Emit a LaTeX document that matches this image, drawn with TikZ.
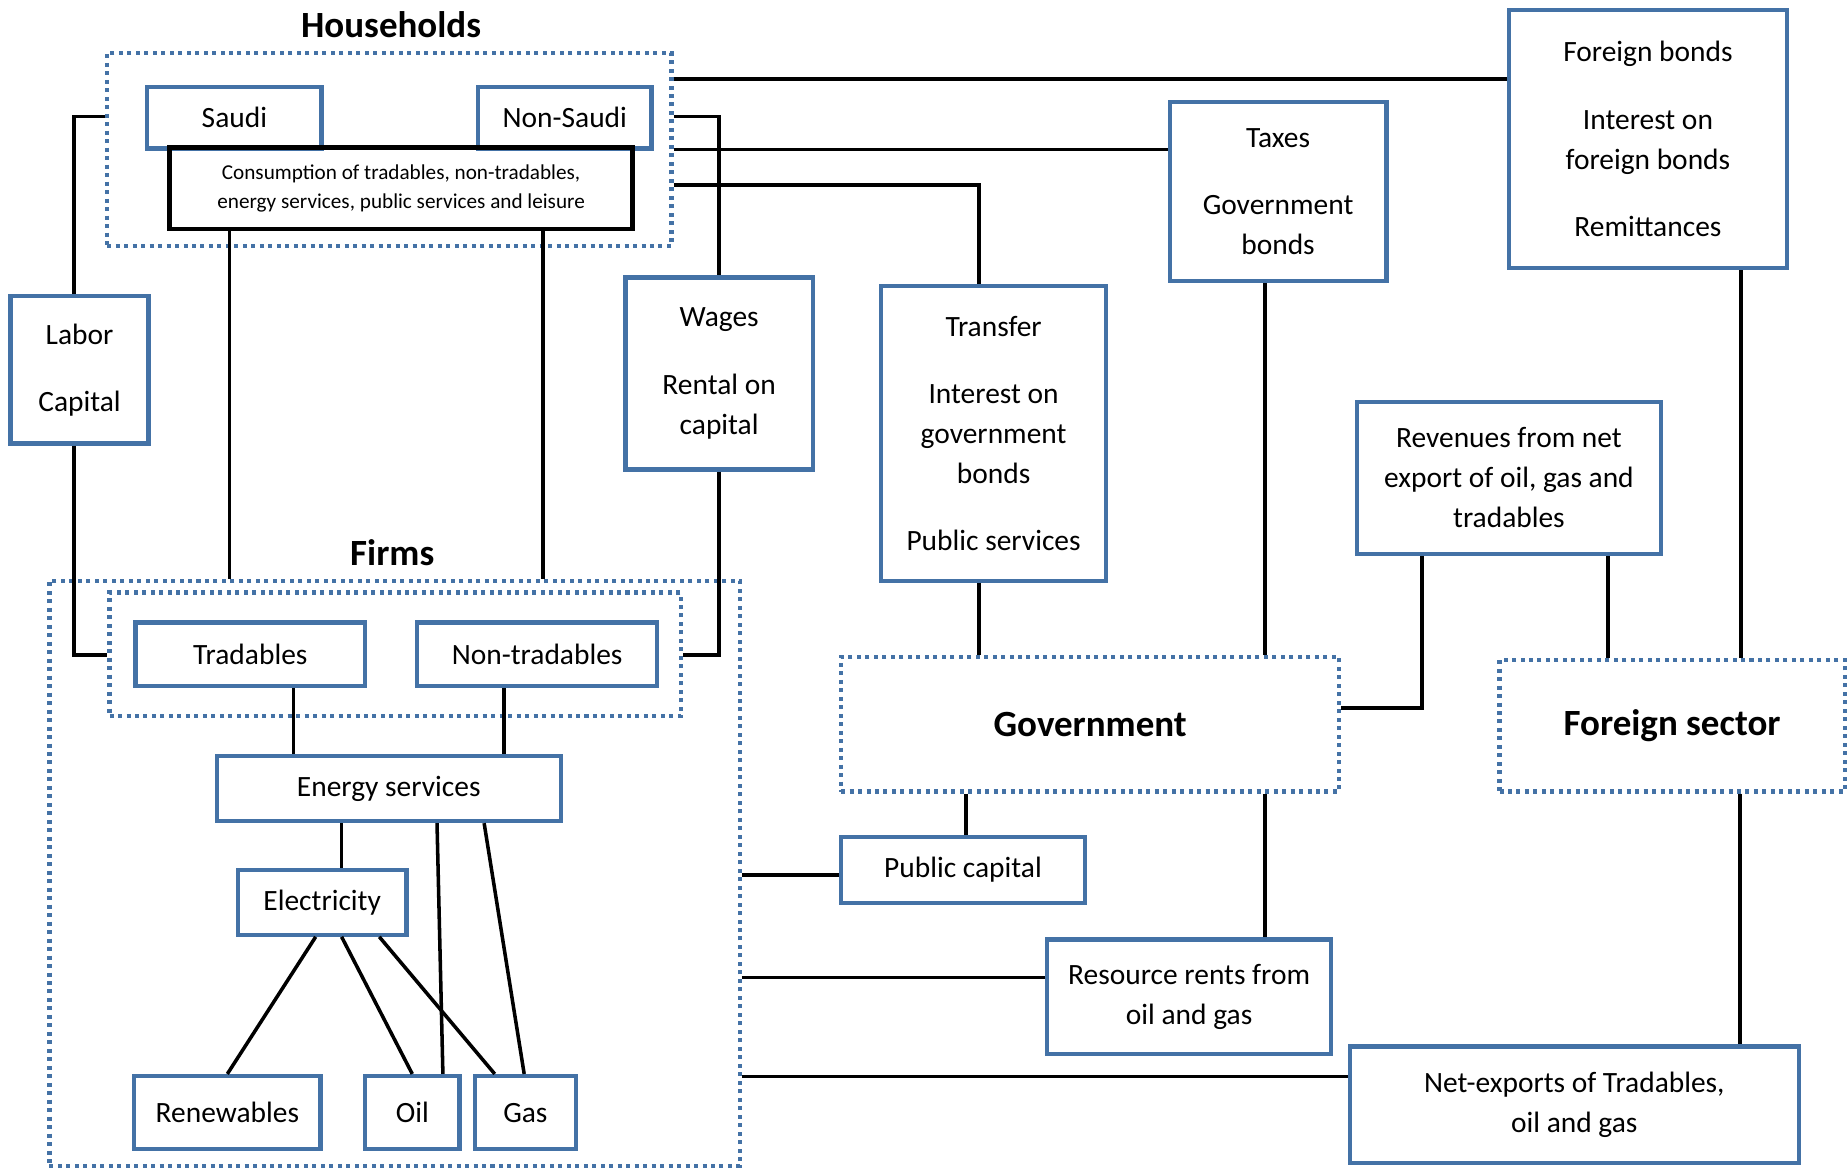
\documentclass[tikz,border=0pt]{standalone}
\usepackage{fontspec}
\setmainfont{Carlito}
\definecolor{bx}{RGB}{68,114,166}
\begin{document}
\begin{tikzpicture}[x=0.5pt,y=-0.5pt,
 box/.style={draw=bx, line width=1.8pt, inner sep=0pt, align=center, font=\fontsize{12.5}{17}\selectfont},
 grp/.style={draw=bx, line width=1.8pt, dash pattern=on 1.7pt off 1.9pt, inner sep=0pt, align=center},
 ttl/.style={font=\fontsize{15.7}{19}\selectfont\bfseries},
 con/.style={line width=1.5pt, black}]
\useasboundingbox (0,0) rectangle (1568,992);

% group boxes
\node[grp, minimum width=239.5pt, minimum height=82pt] (hh) at (330.5,127) {};
\node[grp, minimum width=293pt, minimum height=248.5pt] (fo) at (335,741.5) {};
\node[grp, minimum width=242.5pt, minimum height=52.5pt] (fin) at (335.5,555.5) {};
\node[grp, minimum width=211.5pt, minimum height=57pt, ttl] (gov) at (925.5,615) {Government};
\node[grp, minimum width=146.5pt, minimum height=56pt, ttl] (fs) at (1419.5,616) {Foreign sector};

% titles
\node[ttl] (thh) at (332,21) {Households};
\node[ttl] (tfi) at (333,469) {Firms};

% households
\node[box, minimum width=74pt, minimum height=26pt] (sa) at (199,100) {Saudi};
\node[box, minimum width=73.5pt, minimum height=26pt] (ns) at (479.5,100) {Non-Saudi};
\node[box, draw=black, line width=2pt, minimum width=196.5pt, minimum height=34.5pt, font=\fontsize{9}{12.5}\selectfont] (cons) at (340.5,160) {Consumption of tradables, non-tradables,\\energy services, public services and leisure};

% other boxes
\node[box, minimum width=58.5pt, minimum height=62.5pt] (lab) at (67.5,314) {Labor\\[11.5pt]Capital};
\node[box, minimum width=79.5pt, minimum height=81.5pt] (wag) at (610.5,317) {Wages\\[11.5pt]Rental on\\capital};
\node[box, minimum width=95.5pt, minimum height=125pt] (tr) at (843.5,368) {Transfer\\[11.5pt]Interest on\\government\\bonds\\[11.5pt]Public services};
\node[box, minimum width=92pt, minimum height=76pt] (tax) at (1085,162.5) {Taxes\\[11.5pt]Government\\bonds};
\node[box, minimum width=118pt, minimum height=109.5pt] (fb) at (1399,118) {Foreign bonds\\[11.5pt]Interest on\\foreign bonds\\[11.5pt]Remittances};
\node[box, minimum width=129pt, minimum height=64.5pt] (rev) at (1281,405.5) {Revenues from net\\export of oil, gas and\\tradables};
\node[box, minimum width=103.5pt, minimum height=28pt] (pc) at (817.5,738.5) {Public capital};
\node[box, minimum width=120.5pt, minimum height=48.5pt] (rr) at (1009.5,846) {Resource rents from\\oil and gas};
\node[box, minimum width=190.5pt, minimum height=49.5pt] (ne) at (1336.5,938) {Net-exports of Tradables,\\oil and gas};

% firms
\node[box, minimum width=97.5pt, minimum height=27pt] (trd) at (212.5,555.5) {Tradables};
\node[box, minimum width=102pt, minimum height=27pt] (ntr) at (456,555.5) {Non-tradables};
\node[box, minimum width=146pt, minimum height=27.5pt] (en) at (330,669.5) {Energy services};
\node[box, minimum width=71.5pt, minimum height=27.5pt] (el) at (273.5,766) {Electricity};
\node[box, minimum width=79pt, minimum height=31pt] (ren) at (193,944.5) {Renewables};
\node[box, minimum width=40pt, minimum height=31pt] (oil) at (350,944.5) {Oil};
\node[box, minimum width=43pt, minimum height=31pt] (gas) at (446,944.5) {Gas};

% connectors
\draw[con] (lab.north -| 63,0) |- (hh.west |- 0,99);
\draw[con] (lab.south -| 63,0) |- (fin.west |- 0,556);
\draw[con] (cons.south -| 195,0) -- (fo.north -| 195,0);
\draw[con] (cons.south -| 461,0) -- (fo.north -| 461,0);
\draw[con] (hh.east |- 0,67) -- (fb.west |- 0,67);
\draw[con] (hh.east |- 0,99) -| (wag.north);
\draw[con] (hh.east |- 0,127) -- (tax.west |- 0,127);
\draw[con] (hh.east |- 0,157) -| (tr.north -| 831,0);
\draw[con] (wag.south) |- (fin.east |- 0,556);
\draw[con] (tr.south -| 831,0) -- (gov.north -| 831,0);
\draw[con] (tax.south -| 1074,0) -- (gov.north -| 1074,0);
\draw[con] (fb.south -| 1478,0) -- (fs.north -| 1478,0);
\draw[con] (rev.south -| 1207,0) |- (gov.east |- 0,601);
\draw[con] (rev.south -| 1365,0) -- (fs.north -| 1365,0);
\draw[con] (gov.south -| 820,0) -- (pc.north -| 820,0);
\draw[con] (fo.east |- 0,743) -- (pc.west |- 0,743);
\draw[con] (gov.south -| 1074,0) -- (rr.north -| 1074,0);
\draw[con] (fo.east |- 0,830) -- (rr.west |- 0,830);
\draw[con] (fo.east |- 0,914) -- (ne.west |- 0,914);
\draw[con] (fs.south -| 1477,0) -- (ne.north -| 1477,0);
\draw[con] (trd.south -| 249,0) -- (en.north -| 249,0);
\draw[con] (ntr.south -| 428,0) -- (en.north -| 428,0);
\draw[con] (en.south -| 290,0) -- (el.north -| 290,0);
\draw[con] (el.south -| 268,0) -- (ren.north -| 193,0);
\draw[con] (el.south -| 290,0) -- (oil.north -| 350,0);
\draw[con] (el.south -| 322,0) -- (gas.north -| 420,0);
\draw[con] (en.south -| 371,0) -- (oil.north -| 376,0);
\draw[con] (en.south -| 411,0) -- (gas.north -| 445,0);
\end{tikzpicture}
\end{document}
